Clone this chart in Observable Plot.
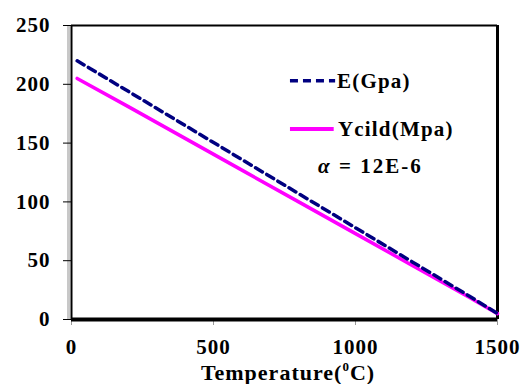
<!DOCTYPE html>
<html>
<head>
<meta charset="utf-8">
<script src="https://cdn.jsdelivr.net/npm/d3@7"></script>
<script src="https://cdn.jsdelivr.net/npm/@observablehq/plot@0.6"></script>
<style>
  html, body { margin: 0; padding: 0; background: #fff; }
  #chart svg { display: block; }
  #chart svg, #chart svg text { font-family: "Liberation Serif", "Times New Roman", serif; }
</style>
</head>
<body>
<div id="chart"></div>
<script>
// Temperature (°C)
const temps = [20, 200, 400, 600, 800, 1000, 1200, 1400, 1500];
// Elastic modulus E (GPa)
const modulus = [220, 194, 165, 136, 107, 78, 49, 20, 5];
// Yield strength (MPa)
const yieldStress = [205, 181, 154, 127, 100, 73, 46, 19, 5];

const xTicks = [0, 500, 1000, 1500];
const yTicks = [0, 50, 100, 150, 200, 250];

const seriesNames = ["E(Gpa)", "Ycild(Mpa)"];
const note = "α = 12E-6";

const eData = temps.map((t, i) => ({t, v: modulus[i]}));
const yData = temps.map((t, i) => ({t, v: yieldStress[i]}));

const font = "Liberation Serif, Times New Roman, serif";
const navy = "#000080";
const magenta = "#ff00ff";

const chart = Plot.plot({
  width: 525,
  height: 384,
  marginLeft: 71,
  marginRight: 28,
  marginTop: 25,
  marginBottom: 65,
  style: {fontWeight: "bold", fontSize: "21px", color: "#000", background: "#fff", overflow: "visible"},
  x: {domain: [0, 1500]},
  y: {domain: [0, 250]},
  marks: [
    // gray shadow beside the value axis
    Plot.ruleX([0], {stroke: "#c8c8c8", strokeWidth: 3, dx: -3}),
    // plot frame
    Plot.ruleY([250], {stroke: "#000", strokeWidth: 2}),
    Plot.ruleX([1500], {stroke: "#000", strokeWidth: 3}),
    Plot.ruleX([0], {stroke: "#000", strokeWidth: 2}),
    Plot.axisY(yTicks, {tickSize: 8, tickPadding: 13, stroke: "#000", fill: "#000", fontSize: 21, fontWeight: "bold", label: null}),
    Plot.axisX(xTicks, {tickSize: 6, tickPadding: 14, stroke: "#999", fill: "#000", fontSize: 21, fontWeight: "bold", label: null, tickFormat: d => String(d)}),
    Plot.ruleY([0], {stroke: "#000", strokeWidth: 4}),
    // series
    Plot.line(yData, {x: "t", y: "v", stroke: magenta, strokeWidth: 3.5}),
    Plot.line(eData, {x: "t", y: "v", stroke: navy, strokeWidth: 3.5, strokeDasharray: "8,5"}),
    // legend
    Plot.ruleY([203], {x1: 771, x2: 930, stroke: navy, strokeWidth: 3.5, strokeDasharray: "8,5"}),
    Plot.ruleY([162], {x1: 771, x2: 925, stroke: magenta, strokeWidth: 4}),
    Plot.text([seriesNames[0]], {x: 935, y: 203, text: d => d, textAnchor: "start", fontSize: 21, fontWeight: "bold", fill: "#000"}),
    Plot.text([seriesNames[1]], {x: 938, y: 162, text: d => d, textAnchor: "start", fontSize: 21, fontWeight: "bold", fill: "#000"})
  ]
});

const svg = d3.select(chart);
// widen the lettering a little
svg.selectAll("g[aria-label=text] text").attr("letter-spacing", 1.2);
svg.selectAll("g[aria-label='y-axis tick label'] text, g[aria-label='x-axis tick label'] text").attr("letter-spacing", 1);

// coefficient note with italic alpha
const px = chart.scale("x"), py = chart.scale("y");
const noteText = svg.append("text")
  .attr("x", px.apply(870)).attr("y", py.apply(130)).attr("dy", "0.35em")
  .attr("text-anchor", "start").attr("letter-spacing", 2)
  .attr("font-family", font).attr("font-weight", "bold").attr("font-size", 21).attr("fill", "#000");
noteText.append("tspan").attr("font-style", "italic").text(note.slice(0, 1));
noteText.append("tspan").text(note.slice(1));

// axis title with superscript degree
const title = svg.append("text")
  .attr("x", 288).attr("y", 380)
  .attr("text-anchor", "middle").attr("letter-spacing", 1)
  .attr("font-family", font).attr("font-weight", "bold").attr("font-size", 22).attr("fill", "#000");
title.append("tspan").text("Temperature(");
title.append("tspan").attr("font-size", 13).attr("dy", -9).text("0");
title.append("tspan").attr("dy", 9).text("C)");

document.getElementById("chart").appendChild(chart);
</script>
</body>
</html>
